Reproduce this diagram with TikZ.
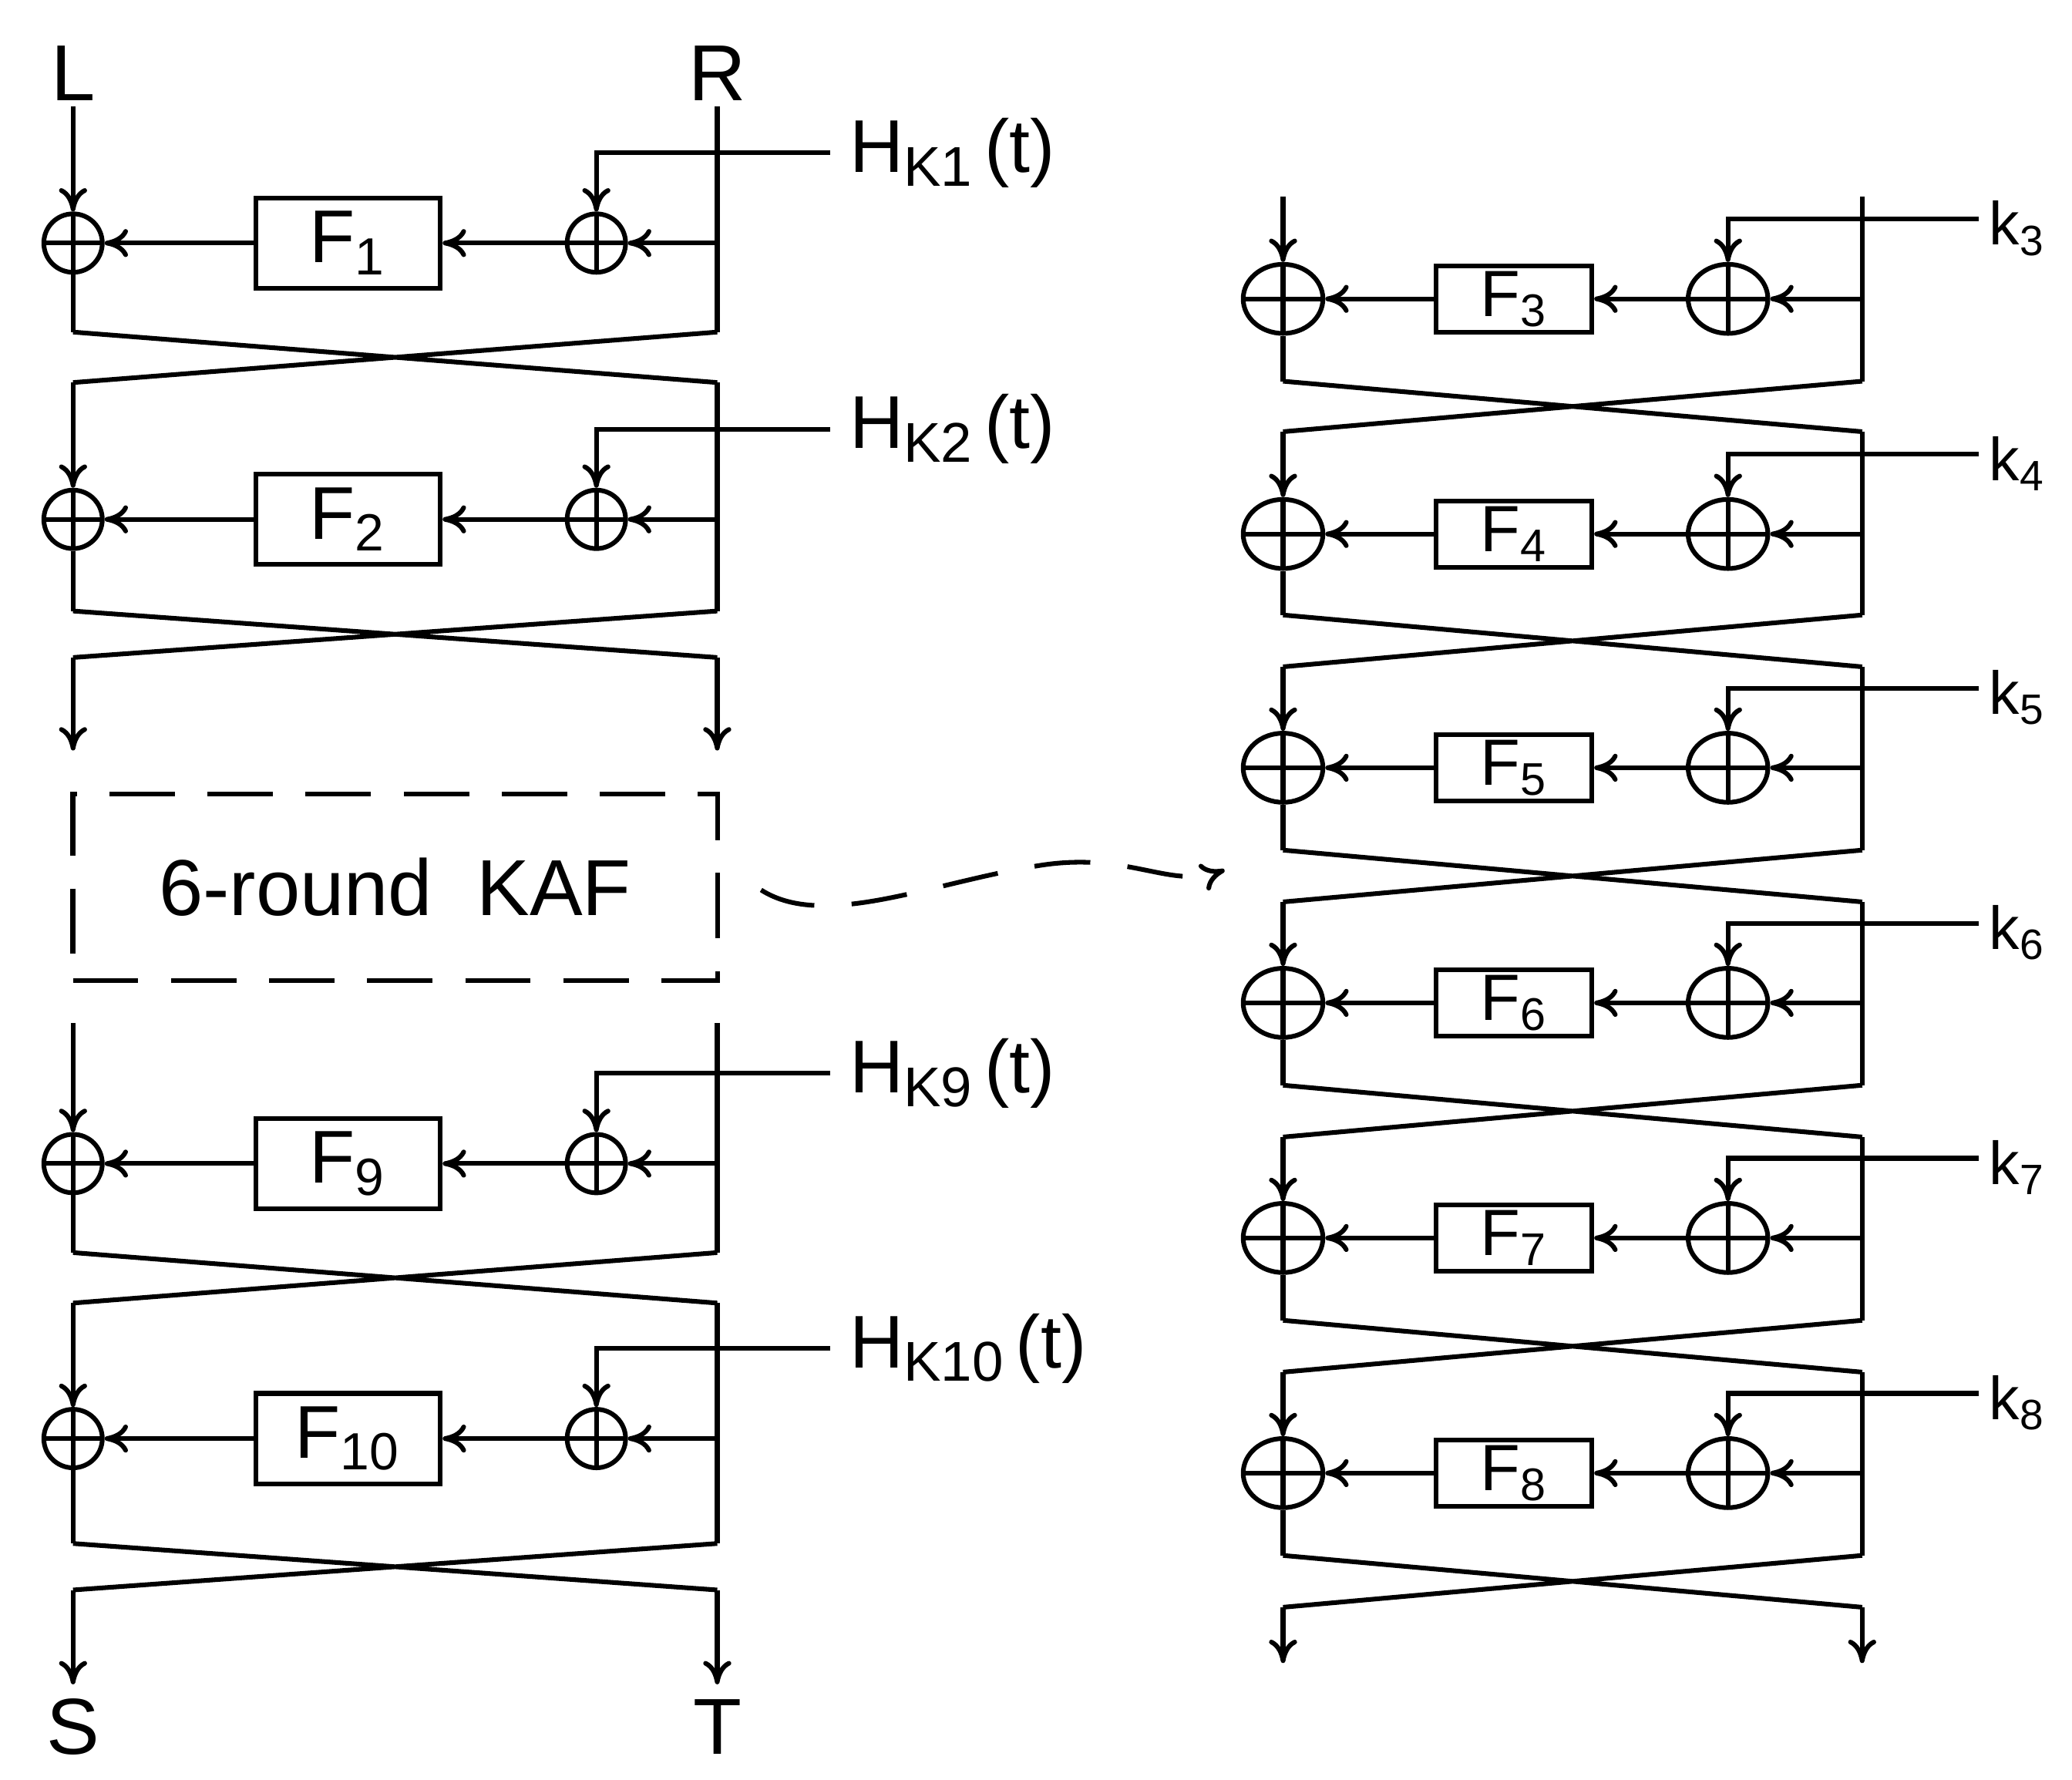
\documentclass[tikz,border=0pt]{standalone}
\usepackage{fontspec}
\setmainfont{Liberation Sans}
\usetikzlibrary{shapes.geometric,arrows.meta}
\begin{document}
\begin{tikzpicture}[x=0.01cm,y=-0.01cm,line width=1pt,
  tip/.style={-{To[length=5pt,width=6pt]}},
  xor/.style={draw,circle,minimum size=0.44cm,inner sep=0pt,
    path picture={\draw (path picture bounding box.north)--(path picture bounding box.south)
      (path picture bounding box.west)--(path picture bounding box.east);}},
  rxor/.style={draw,ellipse,minimum width=0.6cm,minimum height=0.52cm,inner sep=0pt,
    path picture={\draw (path picture bounding box.north)--(path picture bounding box.south)
      (path picture bounding box.west)--(path picture bounding box.east);}},
  fbox/.style={draw,minimum width=1.39cm,minimum height=0.68cm,inner sep=0pt,font=\fontsize{16}{18}\selectfont},
  rfbox/.style={draw,minimum width=1.17cm,minimum height=0.5cm,inner sep=0pt,font=\fontsize{14}{16}\selectfont},
  lab/.style={font=\fontsize{17}{19}\selectfont,inner sep=0pt},
  klab/.style={font=\fontsize{16}{18}\selectfont,inner sep=0pt,anchor=west},
  rklab/.style={font=\fontsize{13}{15}\selectfont,inner sep=0pt,anchor=west}]
\useasboundingbox (0,0) rectangle (1560,1340);

\newcommand\LRound[6]{%
  \node[xor] (#1a) at (55,#2) {};
  \node[xor] (#1b) at (449,#2) {};
  \node[fbox] (#1f) at (262,#2) {#3};
  \coordinate (#1tl) at (55,#5); \coordinate (#1tr) at (540,#5);
  \coordinate (#1bl) at (55,#6); \coordinate (#1br) at (540,#6);
  \coordinate (#1k) at (625,#2-68); \coordinate (#1r) at (540,#2);
  \node[klab] (#1kl) at (638,#2-68) {#4};
  \draw[tip] (#1tl) -- (#1a.north);
  \draw (#1a.south) -- (#1bl);
  \draw (#1tr) -- (#1br);
  \draw[tip] (#1r) -- (#1b.east);
  \draw[tip] (#1b.west) -- (#1f.east);
  \draw[tip] (#1f.west) -- (#1a.east);
  \draw[tip] (#1k) -| (#1b.north);
}
\newcommand\RRound[6]{%
  \node[rxor] (#1a) at (966,#2) {};
  \node[rxor] (#1b) at (1301,#2) {};
  \node[rfbox] (#1f) at (1140,#2) {#3};
  \coordinate (#1tl) at (966,#5); \coordinate (#1tr) at (1402,#5);
  \coordinate (#1bl) at (966,#6); \coordinate (#1br) at (1402,#6);
  \coordinate (#1k) at (1490,#2-60); \coordinate (#1r) at (1402,#2);
  \node[rklab] (#1kl) at (1496,#2-53) {#4};
  \draw[tip] (#1tl) -- (#1a.north);
  \draw (#1a.south) -- (#1bl);
  \draw (#1tr) -- (#1br);
  \draw[tip] (#1r) -- (#1b.east);
  \draw[tip] (#1b.west) -- (#1f.east);
  \draw[tip] (#1f.west) -- (#1a.east);
  \draw[tip] (#1k) -| (#1b.north);
}
\newcommand\Hk[1]{H\raisebox{-0.35ex}{\fontsize{12}{13}\selectfont K#1}\,(t)}

\node[lab] (L) at (55,55) {L};
\node[lab] (R) at (540,55) {R};
\LRound{a}{183}{F\textsubscript{1}}{\Hk{1}}{80}{250}
\LRound{b}{391}{F\textsubscript{2}}{\Hk{2}}{288}{460}
\draw (abl) -- (btr) (abr) -- (btl);
\coordinate (c1) at (55,495); \coordinate (c2) at (540,495);
\coordinate (d1) at (55,565); \coordinate (d2) at (540,565);
\draw (bbl) -- (c2) (bbr) -- (c1);
\draw[tip] (c1) -- (d1);
\draw[tip] (c2) -- (d2);

\node[draw,dashed,dash pattern=on 14pt off 7pt,minimum width=4.85cm,minimum height=1.4cm,font=\fontsize{17}{19}\selectfont] (kaf) at (297.5,668) {6-round\ \ KAF};

\LRound{c}{876}{F\textsubscript{9}}{\Hk{9}}{770}{943}
\LRound{d}{1083}{F\textsubscript{10}}{\Hk{10}}{981}{1162}
\draw (cbl) -- (dtr) (cbr) -- (dtl);
\coordinate (e1) at (55,1197); \coordinate (e2) at (540,1197);
\coordinate (f1) at (55,1268); \coordinate (f2) at (540,1268);
\draw (dbl) -- (e2) (dbr) -- (e1);
\draw[tip] (e1) -- (f1);
\draw[tip] (e2) -- (f2);
\node[lab] (S) at (55,1300) {S};
\node[lab] (T) at (540,1300) {T};

\coordinate (w1) at (573,670); \coordinate (w2) at (922,655);
\draw[dashed,dash pattern=on 12pt off 8pt,tip] (w1) .. controls (620,700) and (700,665) .. (780,652) .. controls (850,640) and (880,670) .. (w2);

\RRound{r3}{225}{F\textsubscript{3}}{k\textsubscript{3}}{148}{287}
\RRound{r4}{402}{F\textsubscript{4}}{k\textsubscript{4}}{325}{463}
\RRound{r5}{578}{F\textsubscript{5}}{k\textsubscript{5}}{502}{640}
\RRound{r6}{755}{F\textsubscript{6}}{k\textsubscript{6}}{679}{817}
\RRound{r7}{932}{F\textsubscript{7}}{k\textsubscript{7}}{856}{994}
\RRound{r8}{1109}{F\textsubscript{8}}{k\textsubscript{8}}{1033}{1171}
\draw (r3bl) -- (r4tr) (r3br) -- (r4tl);
\draw (r4bl) -- (r5tr) (r4br) -- (r5tl);
\draw (r5bl) -- (r6tr) (r5br) -- (r6tl);
\draw (r6bl) -- (r7tr) (r6br) -- (r7tl);
\draw (r7bl) -- (r8tr) (r7br) -- (r8tl);
\coordinate (g1) at (966,1210); \coordinate (g2) at (1402,1210);
\coordinate (h1) at (966,1252); \coordinate (h2) at (1402,1252);
\draw (r8bl) -- (g2) (r8br) -- (g1);
\draw[tip] (g1) -- (h1);
\draw[tip] (g2) -- (h2);
\end{tikzpicture}
\end{document}
